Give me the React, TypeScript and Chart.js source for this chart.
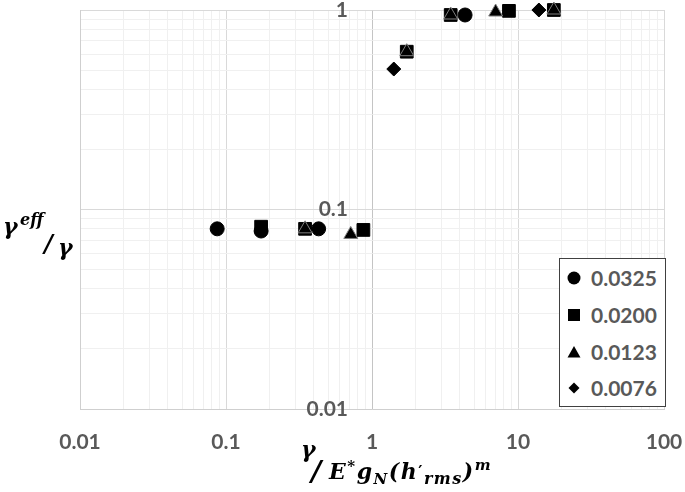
import React, { useEffect, useRef } from "react";
import { Chart, registerables } from "chart.js";

Chart.register(...registerables);

// ---- axis ticks ----
const X_DECADES = [0.01, 0.1, 1, 10, 100];
const X_TICK_LABELS = ["0.01", "0.1", "1", "10", "100"];
const Y_DECADES = [0.01, 0.1, 1];
const Y_TICK_LABELS = ["0.01", "0.1", "1"];
const MINOR_STEPS = [1, 2, 3, 4, 5, 6, 7, 8, 9];

// ---- series ----
const SERIES_NAMES = ["0.0325", "0.0200", "0.0123", "0.0076"];
const S0325_X = [0.087, 0.174, 0.431, 4.34];
const S0325_Y = [0.080, 0.078, 0.080, 0.944];
const S0200_X = [0.174, 0.348, 0.873, 1.73, 3.46, 8.67, 17.6];
const S0200_Y = [0.082, 0.080, 0.079, 0.618, 0.944, 0.99, 1.0];
const S0123_X = [0.348, 0.715, 1.73, 3.46, 7.03, 17.6];
const S0123_Y = [0.080, 0.075, 0.618, 0.944, 0.977, 1.0];
const S0076_X = [1.41, 13.9];
const S0076_Y = [0.506, 1.0];

const toPts = (xs: number[], ys: number[]) => xs.map((x, i) => ({ x, y: ys[i] }));

const buildTicks = (decades: number[]) => {
  const out: number[] = [];
  for (let i = 0; i < decades.length - 1; i++) {
    for (const m of MINOR_STEPS) out.push(m * decades[i]);
  }
  out.push(decades[decades.length - 1]);
  return out;
};

const matchIdx = (v: number, list: number[]) =>
  list.findIndex((t) => Math.abs(Math.log10(v) - Math.log10(t)) < 1e-6);

const TICK_FONT = { family: "Lato", size: 21, weight: "bold" as const };
const TICK_COLOR = "#595959";

const serif: React.CSSProperties = {
  position: "absolute",
  fontFamily: "'DejaVu Serif', serif",
  fontWeight: "bold",
  fontStyle: "italic",
  color: "#000",
  lineHeight: 1,
  whiteSpace: "nowrap",
};

function Marker({ kind }: { kind: string }) {
  return (
    <svg width={14} height={14} viewBox="0 0 14 14" style={{ display: "block" }}>
      {kind === "circle" && <circle cx={7} cy={7} r={6.5} fill="#000" />}
      {kind === "rect" && <rect x={1} y={1} width={12} height={12} fill="#000" />}
      {kind === "triangle" && <polygon points="7,1 13.5,12.5 0.5,12.5" fill="#000" />}
      {kind === "rectRot" && <polygon points="7,1.5 12.5,7 7,12.5 1.5,7" fill="#000" />}
    </svg>
  );
}

const STYLES = ["circle", "rect", "triangle", "rectRot"];

export default function App() {
  const ref = useRef<HTMLCanvasElement>(null);

  useEffect(() => {
    const xTicks = buildTicks(X_DECADES);
    const yTicks = buildTicks(Y_DECADES);
    const mctx = document.createElement("canvas").getContext("2d")!;
    mctx.font = "bold 21px Lato";
    const widest = Math.max(...Y_TICK_LABELS.map((t) => mctx.measureText(t).width));
    const yLabelRight = 348;
    const plotLeft = 80;

    const gridColor = (isX: boolean) => (ctx: any) => {
      const v = ctx.tick ? ctx.tick.value : 0;
      const list = isX ? X_DECADES : Y_DECADES;
      if (matchIdx(v, list) >= 0) {
        if (isX && Math.abs(v - 1) < 1e-9) return "#c4c4c4";
        return "#d9d9d9";
      }
      return "#f0f0f0";
    };
    const common = {
      backgroundColor: "#000",
      borderColor: "#000",
      borderWidth: 1,
      showLine: false,
      clip: false as const,
    };
    const chart = new Chart(ref.current!, {
      type: "scatter",
      data: {
        datasets: [
          { ...common, label: SERIES_NAMES[0], data: toPts(S0325_X, S0325_Y), pointStyle: "circle", pointRadius: 7, order: 1 },
          { ...common, label: SERIES_NAMES[1], data: toPts(S0200_X, S0200_Y), pointStyle: "rect", pointRadius: 9, order: 1 },
          { ...common, label: SERIES_NAMES[2], data: toPts(S0123_X, S0123_Y), pointStyle: "triangle", pointRadius: 8, borderColor: "#7f7f7f", order: 0 },
          { ...common, label: SERIES_NAMES[3], data: toPts(S0076_X, S0076_Y), pointStyle: "rectRot", pointRadius: 7, order: 1 },
        ],
      },
      options: {
        animation: false,
        responsive: false,
        devicePixelRatio: 1,
        events: [],
        layout: { padding: { left: plotLeft, top: 10, right: 21, bottom: 0 } },
        plugins: { legend: { display: false }, tooltip: { enabled: false }, title: { display: false } },
        scales: {
          x: {
            type: "logarithmic",
            position: "bottom",
            min: 0.01,
            max: 100,
            grid: { color: gridColor(true), drawTicks: false, lineWidth: 1 },
            border: { display: true, color: "#cfcfcf" },
            ticks: {
              autoSkip: false,
              maxRotation: 0,
              padding: 21,
              font: TICK_FONT,
              color: TICK_COLOR,
              callback: (v: any) => {
                const i = matchIdx(Number(v), X_DECADES);
                return i >= 0 ? X_TICK_LABELS[i] : "";
              },
            },
            afterBuildTicks: (s: any) => {
              s.ticks = xTicks.map((value) => ({ value }));
            },
            afterFit: (s: any) => {
              s.height = 83;
              s.paddingLeft = 0;
              s.paddingRight = 0;
            },
          },
          y: {
            type: "logarithmic",
            position: "left",
            min: 0.01,
            max: 1,
            grid: { color: gridColor(false), drawTicks: false, lineWidth: 1 },
            border: { display: true, color: "#cfcfcf" },
            ticks: {
              autoSkip: false,
              mirror: true,
              crossAlign: "far",
              padding: yLabelRight - plotLeft - widest,
              font: TICK_FONT,
              color: TICK_COLOR,
              callback: (v: any) => {
                const i = matchIdx(Number(v), Y_DECADES);
                return i >= 0 ? Y_TICK_LABELS[i] : "";
              },
            },
            afterBuildTicks: (s: any) => {
              s.ticks = yTicks.map((value) => ({ value }));
            },
            afterFit: (s: any) => {
              s.width = 0;
              s.paddingTop = 0;
              s.paddingBottom = 0;
            },
          },
        },
      },
    } as any);
    return () => chart.destroy();
  }, []);

  const legendRowsTop = [19, 56, 93, 129];

  return (
    <div style={{ position: "fixed", left: 0, top: 0, width: 685, height: 492, background: "#fff", overflow: "hidden" }}>
      <canvas ref={ref} width={685} height={492} style={{ position: "absolute", left: 0, top: 0, width: 685, height: 492 }} />

      {/* y-axis title */}
      <span style={{ ...serif, fontSize: 22, left: 3, top: 215 }}>γ</span>
      <span style={{ ...serif, fontSize: 16, left: 20, top: 212 }}>eff</span>
      <span style={{ ...serif, fontSize: 24, left: 44, top: 232 }}>/</span>
      <span style={{ ...serif, fontSize: 22, left: 58, top: 236 }}>γ</span>

      {/* x-axis title */}
      <span style={{ ...serif, fontSize: 22, left: 301, top: 438 }}>γ</span>
      <span style={{ ...serif, fontSize: 28, left: 311, top: 458 }}>/</span>
      <span style={{ ...serif, fontSize: 22, left: 329, top: 460, letterSpacing: 1.5 }}>
        E
        <span style={{ fontSize: 15, position: "relative", top: -8 }}>*</span>
        g
        <span style={{ fontSize: 15, position: "relative", top: 5 }}>N</span>
        (h
        <span style={{ fontSize: 16, position: "relative", top: -2, fontStyle: "normal" }}>′</span>
        <span style={{ fontSize: 16, position: "relative", top: 5 }}>rms</span>
        )
        <span style={{ fontSize: 15, position: "relative", top: -9 }}>m</span>
      </span>

      {/* legend */}
      <div
        style={{
          position: "absolute",
          left: 559,
          top: 258,
          width: 105,
          height: 147,
          border: "1px solid #404040",
          background: "#fff",
        }}
      >
        {SERIES_NAMES.map((name, i) => (
          <div
            key={name}
            style={{
              position: "absolute",
              left: 7,
              top: legendRowsTop[i] - 13,
              height: 26,
              display: "flex",
              alignItems: "center",
              fontFamily: "Lato, sans-serif",
              fontWeight: "bold",
              fontSize: 21,
              color: TICK_COLOR,
              lineHeight: "26px",
            }}
          >
            <Marker kind={STYLES[i]} />
            <span style={{ marginLeft: 10 }}>{name}</span>
          </div>
        ))}
      </div>
    </div>
  );
}
